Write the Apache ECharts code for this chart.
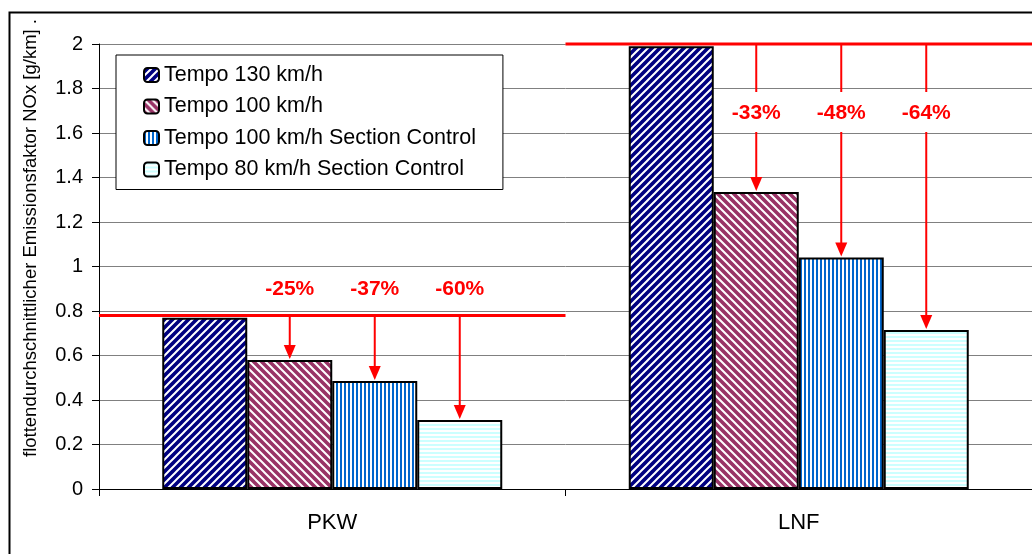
<!DOCTYPE html>
<html>
<head>
<meta charset="utf-8">
<script src="https://cdn.jsdelivr.net/npm/echarts@6/dist/echarts.min.js"></script>
<style>
html,body{margin:0;padding:0;background:#fff;}
#chart{width:1032px;height:554px;}
</style>
</head>
<body>
<div id="chart"></div>
<script>
// ---- data ----
const categories = ['PKW', 'LNF'];
const seriesNames = ['Tempo 130 km/h', 'Tempo 100 km/h', 'Tempo 100 km/h Section Control', 'Tempo 80 km/h Section Control'];
const tempo130 = [0.77, 1.99];
const tempo100 = [0.58, 1.335];
const tempo100SC = [0.485, 1.04];
const tempo80SC = [0.31, 0.715];
const baseLevels = [0.78, 2.0];
const reductionLabels = [['-25%', '-37%', '-60%'], ['-33%', '-48%', '-64%']];
const yAxisTitle = 'flottendurchschnittlicher Emissionsfaktor NOx [g/km] .';
const yMin = 0, yMax = 2, yStep = 0.2;

// ---- patterns ----
function makePattern(size, bg, fg, draw) {
  const c = document.createElement('canvas');
  c.width = size; c.height = size;
  const ctx = c.getContext('2d');
  ctx.fillStyle = bg; ctx.fillRect(0, 0, size, size);
  ctx.strokeStyle = fg; ctx.fillStyle = fg;
  draw(ctx, size);
  return { image: c, repeat: 'repeat' };
}
const patSlash = makePattern(8, '#000080', '#ffffff', (ctx, s) => {
  ctx.lineWidth = 2;
  ctx.beginPath();
  ctx.moveTo(-2, s + 2); ctx.lineTo(s + 2, -2);
  ctx.moveTo(-2, 2); ctx.lineTo(2, -2);
  ctx.moveTo(s - 2, s + 2); ctx.lineTo(s + 2, s - 2);
  ctx.stroke();
});
const patBack = makePattern(8, '#993366', '#ffffff', (ctx, s) => {
  ctx.lineWidth = 2;
  ctx.beginPath();
  ctx.moveTo(-2, -2); ctx.lineTo(s + 2, s + 2);
  ctx.moveTo(s - 2, -2); ctx.lineTo(s + 2, 2);
  ctx.moveTo(-2, s - 2); ctx.lineTo(2, s + 2);
  ctx.stroke();
});
const patVert = makePattern(4, '#ffffff', '#0066CC', (ctx, s) => {
  ctx.fillRect(0, 0, 2, s);
});
const patHoriz = makePattern(4, '#ffffff', '#CCFFFF', (ctx, s) => {
  ctx.fillRect(0, 0, s, 2);
});
const patterns = [patSlash, patBack, patVert, patHoriz];
const allValues = [tempo130, tempo100, tempo100SC, tempo80SC];

const FONT = '"Liberation Sans", Arial, sans-serif';
const BAR_W = 85;

// annotation items: [catIndex, slot, targetValue, baseValue, labelText]
const arrowData = [];
categories.forEach((c, ci) => {
  for (let s = 1; s <= 3; s++) {
    arrowData.push([ci, s, allValues[s][ci], baseLevels[ci], reductionLabels[ci][s - 1]]);
  }
});
const baseData = categories.map((c, ci) => [ci, baseLevels[ci]]);

const chart = echarts.init(document.getElementById('chart'), null, { renderer: 'canvas' });

const barSeries = seriesNames.map((name, i) => ({
  name: name,
  type: 'bar',
  data: allValues[i],
  barWidth: BAR_W,
  barGap: '0%',
  itemStyle: { color: patterns[i], borderColor: '#000', borderWidth: 2 },
  z: 2
}));

const option = {
  animation: false,
  backgroundColor: '#fff',
  textStyle: { fontFamily: FONT },
  grid: { left: 99, right: -1, top: 44, bottom: 65, containLabel: false },
  legend: {
    data: seriesNames,
    orient: 'vertical',
    left: 116, top: 55,
    padding: [9, 27, 9, 27],
    itemGap: 9.5,
    itemWidth: 15, itemHeight: 14,
    backgroundColor: '#fff',
    borderColor: '#000', borderWidth: 1,
    borderRadius: 0,
    textStyle: { fontFamily: FONT, fontSize: 21.5, color: '#000' },
    itemStyle: { borderColor: '#000', borderWidth: 2 },
    selectedMode: false,
    z: 10
  },
  xAxis: {
    type: 'category',
    data: categories,
    axisLine: { lineStyle: { color: '#000', width: 1 } },
    axisTick: { show: true, length: 7, lineStyle: { color: '#000' } },
    axisLabel: { color: '#000', fontSize: 22, fontFamily: FONT, margin: 23 },
    splitLine: { show: false }
  },
  yAxis: {
    type: 'value',
    min: yMin, max: yMax, interval: yStep,
    axisLine: { show: true, lineStyle: { color: '#000', width: 1 } },
    axisTick: { show: true, length: 7, lineStyle: { color: '#000' } },
    axisLabel: { color: '#000', fontSize: 20, fontFamily: FONT, margin: 16 },
    splitLine: { show: true, lineStyle: { color: '#808080', width: 1 } }
  },
  graphic: [
    {
      type: 'rect', left: 7, top: 10, silent: true,
      shape: { x: 0, y: 0, width: 1100, height: 700 },
      style: { fill: 'none', stroke: '#000', lineWidth: 2 }
    },
    {
      type: 'text', x: 31, y: 238, rotation: Math.PI / 2,
      style: { text: yAxisTitle, fontFamily: FONT, fontSize: 18.5, fill: '#000', align: 'center', verticalAlign: 'middle' }
    }
  ],
  series: barSeries.concat([
    {
      type: 'custom',
      name: 'base',
      data: baseData,
      encode: { x: 0, y: 1 },
      clip: false,
      z: 5,
      renderItem: function (params, api) {
        const ci = api.value(0);
        const p = api.coord([ci, api.value(1)]);
        const bw = api.size([1, 0])[0];
        return {
          type: 'line',
          shape: { x1: p[0] - bw / 2, y1: p[1], x2: p[0] + bw / 2, y2: p[1] },
          style: { stroke: '#FF0000', lineWidth: 3 }
        };
      }
    },
    {
      type: 'custom',
      name: 'arrows',
      data: arrowData,
      encode: { x: 0, y: 2 },
      clip: false,
      z: 6,
      renderItem: function (params, api) {
        const ci = api.value(0);
        const slot = api.value(1);
        const target = api.value(2);
        const base = api.value(3);
        const text = arrowData[params.dataIndex][4];
        const x = api.coord([ci, 0])[0] + (slot - 1.5) * BAR_W;
        const yTop = api.coord([ci, base])[1];
        const yBot = api.coord([ci, target])[1] - 1;
        const headH = 14, headW = 6;
        const children = [];
        let labelY;
        if (ci === 0) {
          labelY = yTop - 26;
          children.push({ type: 'line', shape: { x1: x, y1: yTop, x2: x, y2: yBot - headH + 2 }, style: { stroke: '#FF0000', lineWidth: 2 } });
        } else {
          labelY = yTop + 69;
          children.push({ type: 'line', shape: { x1: x, y1: yTop, x2: x, y2: yTop + 48 }, style: { stroke: '#FF0000', lineWidth: 2 } });
          children.push({ type: 'line', shape: { x1: x, y1: yTop + 88, x2: x, y2: yBot - headH + 2 }, style: { stroke: '#FF0000', lineWidth: 2 } });
        }
        children.push({
          type: 'polygon',
          shape: { points: [[x - headW, yBot - headH], [x + headW, yBot - headH], [x, yBot]] },
          style: { fill: '#FF0000' }
        });
        children.push({
          type: 'text',
          x: x, y: labelY,
          style: { text: text, fontFamily: FONT, fontSize: 21, fontWeight: 'bold', fill: '#FF0000', align: 'center', verticalAlign: 'middle' }
        });
        return { type: 'group', children: children };
      }
    }
  ])
};
chart.setOption(option);
</script>
</body>
</html>
